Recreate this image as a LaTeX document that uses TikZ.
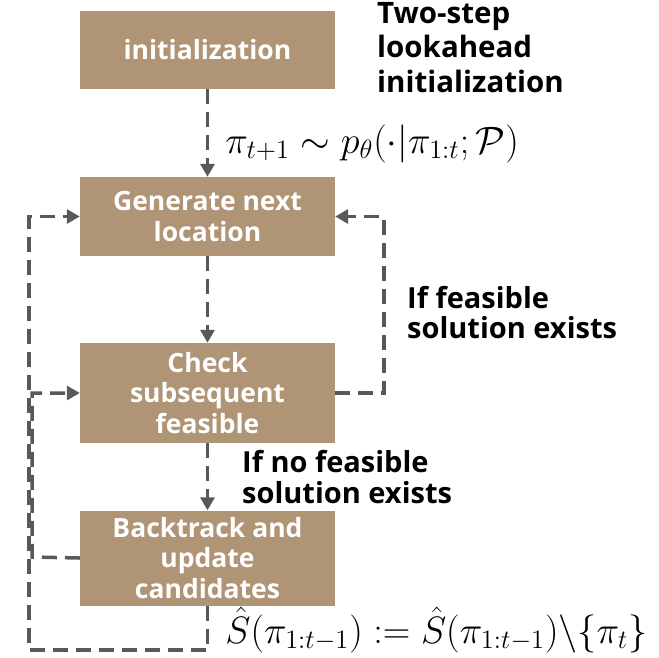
\documentclass[tikz,border=0pt]{standalone}
\usepackage{amsmath}
\usepackage{fontspec}
\setmainfont{Open Sans}
\usetikzlibrary{arrows.meta}
\definecolor{boxc}{RGB}{175,148,117}
\definecolor{linec}{RGB}{89,89,89}
\begin{document}
\begin{tikzpicture}[x=1pt,y=-1pt,
  box/.style={fill=boxc, text=white, font=\bfseries\fontsize{26.5}{30.5}\selectfont, align=center, minimum width=255pt, inner sep=0pt},
  lbl/.style={text=black, align=left, inner sep=0pt},
  mth/.style={font=\huge, scale=1.84, inner sep=0pt},
  dl/.style={draw=linec, line width=3.5pt, dash pattern=on 15pt off 8pt},
  arr/.style={dl, -{Triangle[width=14pt,length=13pt]}}
]
\useasboundingbox (0,0) rectangle (659,657);
\node[box, minimum height=78pt] (b1) at (207.5,50) {initialization};
\node[box, minimum height=79pt] (b2) at (207.5,216.5) {Generate next\\location};
\node[box, minimum height=100pt] (b3) at (207.5,393) {Check\\subsequent\\feasible};
\node[box, minimum height=95pt] (b4) at (207.5,558) {Backtrack and\\update\\candidates};

\node[lbl, font=\bfseries\fontsize{29.5}{34.5}\selectfont, anchor=north west] (l1) at (377,2) {Two-step\\lookahead\\initialization};
\node[lbl, font=\bfseries\fontsize{29}{30.5}\selectfont, anchor=north west] (l2) at (407,286) {If feasible\\solution exists};
\node[lbl, font=\bfseries\fontsize{29}{31}\selectfont, anchor=north west] (l3) at (242,450) {If no feasible\\solution exists};

\node[mth, anchor=base west] (f1) at (225,153) {$\pi_{t+1}\sim p_\theta(\cdot|\pi_{1:t};\mathcal{P})$};
\node[mth, anchor=base west] (f2) at (225,643) {$\hat S(\pi_{1:t-1}) := \hat S(\pi_{1:t-1})\backslash\{\pi_t\}$};

\coordinate (rc) at (384,393);
\coordinate (lc1) at (32,557);
\coordinate (bc) at (207.5,650);
\coordinate (lc2) at (29,650);

\draw[arr] (b1.south) -- (b2.north);
\draw[arr] (b2.south) -- (b3.north);
\draw[arr] (b3.south) -- (b4.north);
\draw[arr] (b3.east) -- (rc) |- (b2.east);
\draw[arr] (b4.west) -- (lc1) |- (b3.west);
\draw[arr] (b4.south) -- (bc) -- (lc2) |- (b2.west);
\end{tikzpicture}
\end{document}
